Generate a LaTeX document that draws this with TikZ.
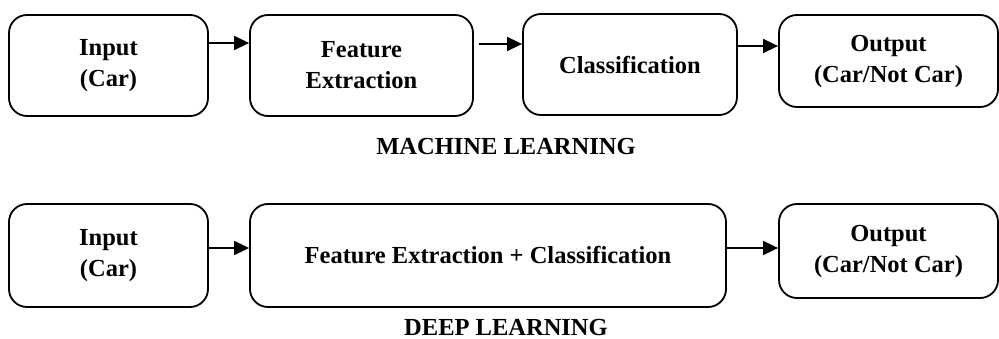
\documentclass[tikz,border=0pt]{standalone}
\usepackage{fontspec}
\setmainfont{Liberation Serif}
\usetikzlibrary{arrows.meta}
\begin{document}
\begin{tikzpicture}[x=1pt,y=-1pt,
  box/.style={draw=black,line width=1.8pt,rounded corners=18pt,align=center,inner sep=0pt,
    font=\fontsize{24.5}{31}\selectfont\bfseries},
  arr/.style={line width=1.6pt,-{Triangle[length=15pt,width=14pt]}},
  ttl/.style={anchor=base,inner sep=0pt,text depth=0pt,font=\fontsize{24.5}{30}\selectfont\bfseries}]
\useasboundingbox (0,0) rectangle (999,339);
% machine learning row
\node[box,minimum width=199pt,minimum height=101pt] (mi) at (108.5,65.5) {Input\\(Car)};
\node[box,minimum width=223pt,minimum height=101pt] (mf) at (361.5,65.5) {Feature\\Extraction};
\node[box,minimum width=214pt,minimum height=101pt] (mc) at (630,64.5) {Classification};
\node[box,minimum width=219pt,minimum height=92pt] (mo) at (888.5,61) {Output\\(Car/Not Car)};
\draw[arr] (mi.east |- 0,43) -- (mf.west |- 0,43);
\draw[arr,shorten <=5pt] (mf.east |- 0,44) -- (mc.west |- 0,44);
\draw[arr] (mc.east |- 0,46) -- (mo.west |- 0,46);
\node[ttl] (ml) at (506,155) {MACHINE LEARNING};
% deep learning row
\node[box,minimum width=199pt,minimum height=103pt] (di) at (108.5,255.5) {Input\\(Car)};
\node[box,minimum width=476pt,minimum height=103pt] (df) at (488,255.5) {Feature Extraction + Classification};
\node[box,minimum width=219pt,minimum height=94pt] (do) at (888.5,251) {Output\\(Car/Not Car)};
\draw[arr] (di.east |- 0,248) -- (df.west |- 0,248);
\draw[arr] (df.east |- 0,248) -- (do.west |- 0,248);
\node[ttl] (dl) at (506,335) {DEEP LEARNING};
\end{tikzpicture}
\end{document}
